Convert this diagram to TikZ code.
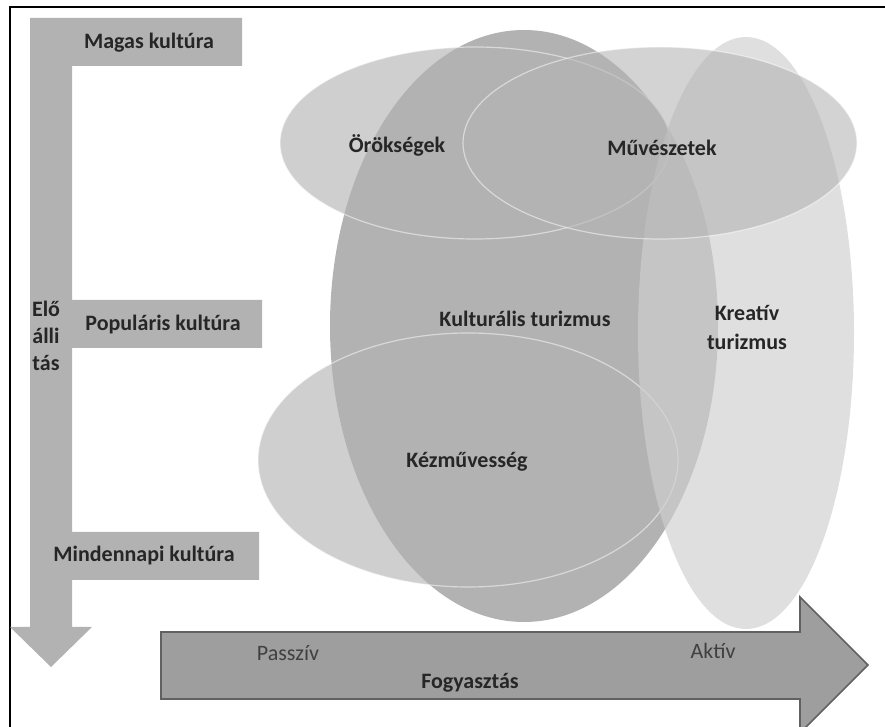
\documentclass[tikz,border=0pt]{standalone}
\usepackage{fontspec}
\setmainfont{Carlito}
\usepackage{tikz}
\tikzset{
    band/.style={fill=black!30, draw=none},
    axis/.style={fill=black!38, draw=black!62, line width=0.8pt},
    field/.style={fill=black!19, draw=none},
    culture/.style={fill=black!30, draw=none},
    creative/.style={fill=black!19, fill opacity=0.66, draw=none},
    arts/.style={fill=black!29, fill opacity=0.6, draw=none},
    rim/.style={draw=white, line width=0.6pt, opacity=0.5},
    lab/.style={font=\fontsize{11}{13.5}\selectfont\bfseries, text=black!85},
    thin/.style={font=\fontsize{11}{13}\selectfont, text=black!75},
}

\begin{document}
\begin{tikzpicture}[x=0.5pt, y=-0.5pt]
	\useasboundingbox (0,0) rectangle (885,727);
	\clip (0,0) rectangle (885,727);
	\draw[line width=1pt] (10,727)--(10,7)--(885,7);
	% production axis
	\fill[band] (30,18)--(242,18)--(242,66)--(72,66)--(72,300)--(262,300)--(262,348)
		--(72,348)--(72,532)--(259,532)--(259,580)--(72,580)--(72,627)--(92,627)
		--(51,667)--(10,627)--(30,627)--cycle;
	% fields
	\fill[field] (475,143) ellipse (195 and 96);
	\fill[field] (468,460) ellipse (210 and 127);
	\fill[culture] (524,326) ellipse (194 and 296);
	\draw[rim] (475,143) ellipse (195 and 96);
	\draw[rim] (468,460) ellipse (210 and 127);
	\fill[creative] (746,333) ellipse (108 and 296);
	\fill[arts] (660,143) ellipse (197 and 96);
	\draw[rim] (660,143) ellipse (197 and 96);
	% consumption axis
	\draw[axis] (161,632)--(800,632)--(800,597)--(868,665)--(800,733)--(800,699)--(161,699)--cycle;
	\node[lab] (magas) at (149,43) {Magas kultúra};
	\node[lab] (popularis) at (163,325) {Populáris kultúra};
	\node[lab] (mindennapi) at (144,556) {Mindennapi kultúra};
	\node[lab, align=center] (eloallitas) at (46,336) {Elő\\álli\\tás};
	\node[lab] (orokseg) at (397,145) {Örökségek};
	\node[lab] (muveszet) at (662,148) {Művészetek};
	\node[lab] (kulturalis) at (525,319) {Kulturális turizmus};
	\node[lab, align=center, font=\fontsize{11}{14.5}\selectfont\bfseries] (kreativ) at (747,327) {Kreatív\\turizmus};
	\node[lab] (kezmuves) at (467,462) {Kézművesség};
	\node[thin] (passziv) at (288,653) {Passzív};
	\node[thin] (aktiv) at (713,651) {Aktív};
	\node[lab] (fogyasztas) at (470,683) {Fogyasztás};
\end{tikzpicture}
\end{document}
